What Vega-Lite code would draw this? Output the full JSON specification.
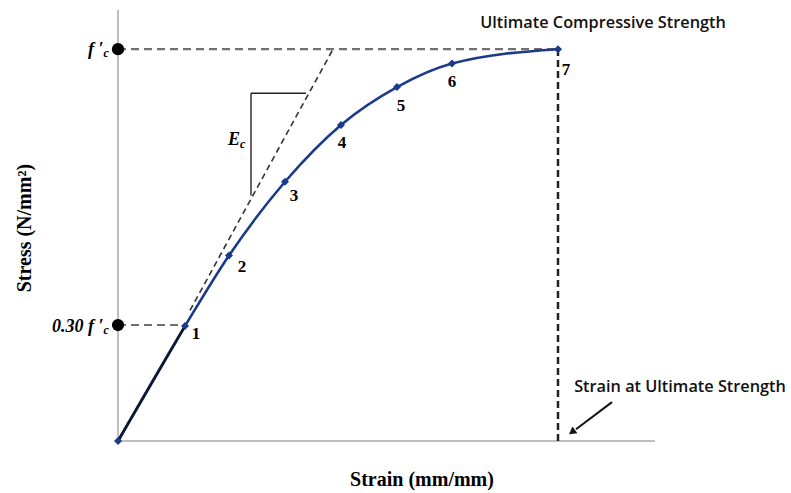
{
  "$schema": "https://vega.github.io/schema/vega-lite/v6.json",
  "width": 540,
  "height": 431,
  "autosize": {"type": "none"},
  "padding": {"left": 118, "top": 10, "right": 133, "bottom": 52},
  "background": "white",
  "config": {"view": {"stroke": null}},
  "datasets": {
    "curve": [
      {"strain": 0, "stress": 0, "pt": ""},
      {"strain": 0.000335, "stress": 8.8, "pt": "1"},
      {"strain": 0.000555, "stress": 14.2, "pt": "2"},
      {"strain": 0.000835, "stress": 19.85, "pt": "3"},
      {"strain": 0.001115, "stress": 24.2, "pt": "4"},
      {"strain": 0.001395, "stress": 27.1, "pt": "5"},
      {"strain": 0.00167, "stress": 28.9, "pt": "6"},
      {"strain": 0.0022, "stress": 30.0, "pt": "7"}
    ],
    "ptlabels": [
      {"x": 0.00039, "y": 8.2, "t": "1"},
      {"x": 0.00062, "y": 13.3, "t": "2"},
      {"x": 0.00088, "y": 18.75, "t": "3"},
      {"x": 0.00112, "y": 22.8, "t": "4"},
      {"x": 0.001415, "y": 25.64, "t": "5"},
      {"x": 0.00167, "y": 27.47, "t": "6"},
      {"x": 0.00224, "y": 28.4, "t": "7"}
    ]
  },
  "layer": [
    {
      "data": {"values": [
        {"x": 0, "y": 0, "x2": 0, "y2": 33},
        {"x": 0, "y": 0, "x2": 0.002685, "y2": 0}
      ]},
      "mark": {"type": "rule", "color": "#a8a8a8", "strokeWidth": 1.5},
      "encoding": {
        "x": {"field": "x", "type": "quantitative", "scale": {"domain": [0, 0.0027], "nice": false, "zero": false}, "axis": null},
        "y": {"field": "y", "type": "quantitative", "scale": {"domain": [0, 33], "nice": false, "zero": false}, "axis": null},
        "x2": {"field": "x2"},
        "y2": {"field": "y2"}
      }
    },
    {
      "data": {"values": [
        {"x": 0, "y": 30, "x2": 0.0022, "y2": 30},
        {"x": 0, "y": 8.88, "x2": 0.000335, "y2": 8.88}
      ]},
      "mark": {"type": "rule", "color": "#707070", "strokeWidth": 2.2, "strokeDash": [8, 5]},
      "encoding": {
        "x": {"field": "x", "type": "quantitative"},
        "y": {"field": "y", "type": "quantitative"},
        "x2": {"field": "x2"},
        "y2": {"field": "y2"}
      }
    },
    {
      "data": {"values": [
        {"x": 0.0022, "y": 0, "x2": 0.0022, "y2": 30}
      ]},
      "mark": {"type": "rule", "color": "#222222", "strokeWidth": 2.5, "strokeDash": [7, 4]},
      "encoding": {
        "x": {"field": "x", "type": "quantitative"},
        "y": {"field": "y", "type": "quantitative"},
        "x2": {"field": "x2"},
        "y2": {"field": "y2"}
      }
    },
    {
      "data": {"values": [
        {"x": 0.00036, "y": 10.0, "x2": 0.001075, "y2": 30}
      ]},
      "mark": {"type": "rule", "color": "#333333", "strokeWidth": 1.6, "strokeDash": [6, 4]},
      "encoding": {
        "x": {"field": "x", "type": "quantitative"},
        "y": {"field": "y", "type": "quantitative"},
        "x2": {"field": "x2"},
        "y2": {"field": "y2"}
      }
    },
    {
      "data": {"values": [
        {"x": 0.000665, "y": 18.8, "x2": 0.000665, "y2": 26.63},
        {"x": 0.000665, "y": 26.63, "x2": 0.00094, "y2": 26.63}
      ]},
      "mark": {"type": "rule", "color": "#222222", "strokeWidth": 1.4},
      "encoding": {
        "x": {"field": "x", "type": "quantitative"},
        "y": {"field": "y", "type": "quantitative"},
        "x2": {"field": "x2"},
        "y2": {"field": "y2"}
      }
    },
    {
      "data": {"name": "curve"},
      "mark": {"type": "line", "color": "#1b3a8a", "strokeWidth": 2.6, "interpolate": "monotone"},
      "encoding": {
        "x": {"field": "strain", "type": "quantitative"},
        "y": {"field": "stress", "type": "quantitative"}
      }
    },
    {
      "data": {"name": "curve"},
      "transform": [{"filter": "datum.strain <= 0.00034"}],
      "mark": {"type": "line", "color": "#101830", "strokeWidth": 2.6},
      "encoding": {
        "x": {"field": "strain", "type": "quantitative"},
        "y": {"field": "stress", "type": "quantitative"}
      }
    },
    {
      "data": {"name": "curve"},
      "mark": {"type": "point", "shape": "diamond", "filled": true, "color": "#1b3a8a", "size": 65, "opacity": 1},
      "encoding": {
        "x": {"field": "strain", "type": "quantitative"},
        "y": {"field": "stress", "type": "quantitative"}
      }
    },
    {
      "data": {"values": [{"x": 0, "y": 30}, {"x": 0, "y": 8.88}]},
      "mark": {"type": "point", "shape": "circle", "filled": true, "color": "black", "size": 150, "opacity": 1},
      "encoding": {
        "x": {"field": "x", "type": "quantitative"},
        "y": {"field": "y", "type": "quantitative"}
      }
    },
    {
      "data": {"name": "ptlabels"},
      "mark": {"type": "text", "font": "Liberation Serif", "fontWeight": "bold", "fontSize": 17, "color": "black", "baseline": "middle", "align": "center"},
      "encoding": {
        "x": {"field": "x", "type": "quantitative"},
        "y": {"field": "y", "type": "quantitative"},
        "text": {"field": "t"}
      }
    },
    {
      "data": {"values": [
        {"x": -0.000072, "y": 29.9, "t": "f ′"},
        {"x": -0.000072, "y": 8.7, "t": "0.30 f ′"},
        {"x": 0.00061, "y": 23.03, "t": "E"}
      ]},
      "mark": {"type": "text", "font": "Liberation Serif", "fontStyle": "italic", "fontWeight": "bold", "fontSize": 18, "color": "black", "baseline": "middle", "align": "right"},
      "encoding": {
        "x": {"field": "x", "type": "quantitative"},
        "y": {"field": "y", "type": "quantitative"},
        "text": {"field": "t"}
      }
    },
    {
      "data": {"values": [
        {"x": -0.000072, "y": 29.7, "t": "c"},
        {"x": -0.000072, "y": 8.5, "t": "c"},
        {"x": 0.00061, "y": 22.75, "t": "c"}
      ]},
      "mark": {"type": "text", "font": "Liberation Serif", "fontStyle": "italic", "fontWeight": "bold", "fontSize": 12, "color": "black", "baseline": "middle", "align": "left"},
      "encoding": {
        "x": {"field": "x", "type": "quantitative"},
        "y": {"field": "y", "type": "quantitative"},
        "text": {"field": "t"}
      }
    },
    {
      "data": {"values": [
        {"x": 0.002425, "y": 32.0, "t": "Ultimate Compressive Strength"},
        {"x": 0.00281, "y": 4.13, "t": "Strain at Ultimate Strength"}
      ]},
      "mark": {"type": "text", "font": "Open Sans", "fontWeight": 600, "fontSize": 16.3, "color": "#111111", "baseline": "middle", "align": "center"},
      "encoding": {
        "x": {"field": "x", "type": "quantitative"},
        "y": {"field": "y", "type": "quantitative"},
        "text": {"field": "t"}
      }
    },
    {
      "data": {"values": [
        {"x": 0.00247, "y": 2.98, "x2": 0.00229, "y2": 0.9}
      ]},
      "mark": {"type": "rule", "color": "#111111", "strokeWidth": 2},
      "encoding": {
        "x": {"field": "x", "type": "quantitative"},
        "y": {"field": "y", "type": "quantitative"},
        "x2": {"field": "x2"},
        "y2": {"field": "y2"}
      }
    },
    {
      "data": {"values": [{"x": 0.00227, "y": 0.69}]},
      "mark": {"type": "point", "shape": "triangle-up", "filled": true, "color": "#111111", "size": 70, "angle": 233, "opacity": 1},
      "encoding": {
        "x": {"field": "x", "type": "quantitative"},
        "y": {"field": "y", "type": "quantitative"}
      }
    },
    {
      "data": {"values": [{"x": 0.00152, "y": -3.0, "t": "Strain (mm/mm)"}]},
      "mark": {"type": "text", "font": "Liberation Serif", "fontWeight": "bold", "fontSize": 20, "color": "black", "baseline": "middle", "align": "center"},
      "encoding": {
        "x": {"field": "x", "type": "quantitative"},
        "y": {"field": "y", "type": "quantitative"},
        "text": {"field": "t"}
      }
    },
    {
      "data": {"values": [{"x": -0.000465, "y": 16.3, "t": "Stress (N/mm²)"}]},
      "mark": {"type": "text", "font": "Liberation Serif", "fontWeight": "bold", "fontSize": 20, "color": "black", "baseline": "middle", "align": "center", "angle": 270},
      "encoding": {
        "x": {"field": "x", "type": "quantitative"},
        "y": {"field": "y", "type": "quantitative"},
        "text": {"field": "t"}
      }
    }
  ]
}
